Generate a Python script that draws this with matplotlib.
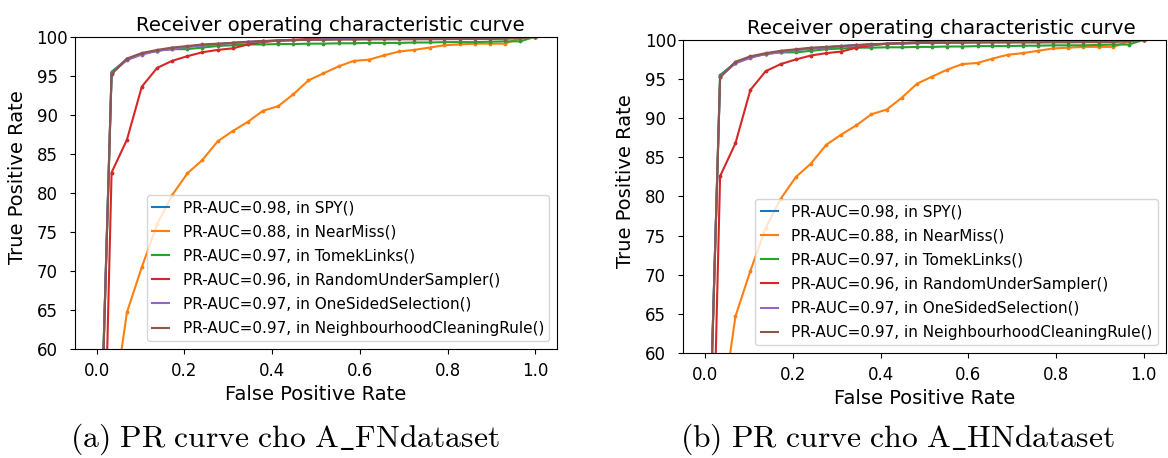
import matplotlib
matplotlib.use("Agg")
import matplotlib.pyplot as plt

# False positive rate grid (evenly spaced points of the curves)
fpr = [0.0, 0.034, 0.069, 0.103, 0.138, 0.172, 0.207, 0.241, 0.276, 0.310,
       0.345, 0.379, 0.414, 0.448, 0.483, 0.517, 0.552, 0.586, 0.621, 0.655,
       0.690, 0.724, 0.759, 0.793, 0.828, 0.862, 0.897, 0.931, 0.966, 1.0]

# True positive rate (%) for each sampler
tpr_spy = [30.0, 95.5, 97.1, 97.8, 98.2, 98.5, 98.7, 98.9, 99.05, 99.2,
           99.3, 99.4, 99.5, 99.55, 99.6, 99.65, 99.7, 99.72, 99.75, 99.78,
           99.8, 99.82, 99.85, 99.87, 99.9, 99.9, 99.92, 99.95, 99.97, 100.0]
tpr_nearmiss = [0.0, 51.0, 64.7, 70.5, 76.0, 79.7, 82.5, 84.2, 86.6, 87.9,
                89.1, 90.5, 91.1, 92.6, 94.4, 95.3, 96.2, 96.9, 97.05, 97.6,
                98.1, 98.3, 98.6, 98.9, 99.0, 99.1, 99.1, 99.1, 99.8, 100.0]
tpr_tomek = [30.0, 95.4, 97.1, 97.8, 98.2, 98.4, 98.4, 98.6, 98.8, 98.9,
             99.0, 99.0, 99.05, 99.05, 99.1, 99.1, 99.15, 99.15, 99.2, 99.2,
             99.2, 99.25, 99.25, 99.3, 99.3, 99.3, 99.35, 99.4, 99.4, 100.0]
tpr_rus = [5.0, 82.6, 86.8, 93.6, 96.0, 96.9, 97.5, 98.0, 98.3, 98.5,
           99.0, 99.3, 99.5, 99.6, 99.7, 99.8, 99.85, 99.9, 99.9, 99.9,
           99.92, 99.93, 99.94, 99.95, 99.96, 99.97, 99.98, 99.98, 99.99, 100.0]
tpr_oss = [30.0, 95.3, 97.0, 97.7, 98.2, 98.4, 98.7, 98.9, 99.0, 99.2,
           99.3, 99.4, 99.5, 99.55, 99.6, 99.65, 99.7, 99.7, 99.75, 99.8,
           99.8, 99.82, 99.85, 99.87, 99.9, 99.9, 99.92, 99.95, 99.97, 100.0]
tpr_ncr = [29.0, 95.2, 97.2, 97.9, 98.3, 98.6, 98.8, 99.0, 99.1, 99.2,
           99.35, 99.45, 99.5, 99.55, 99.6, 99.6, 99.62, 99.62, 99.64, 99.65,
           99.65, 99.66, 99.66, 99.68, 99.68, 99.7, 99.7, 99.72, 99.8, 100.0]

labels = ["PR-AUC=0.98, in SPY()",
          "PR-AUC=0.88, in NearMiss()",
          "PR-AUC=0.97, in TomekLinks()",
          "PR-AUC=0.96, in RandomUnderSampler()",
          "PR-AUC=0.97, in OneSidedSelection()",
          "PR-AUC=0.97, in NeighbourhoodCleaningRule()"]
series = [tpr_spy, tpr_nearmiss, tpr_tomek, tpr_rus, tpr_oss, tpr_ncr]
captions = [r"$\mathrm{(a)\ PR\ curve\ cho\ A\_FNdataset}$",
            r"$\mathrm{(b)\ PR\ curve\ cho\ A\_HNdataset}$"]
yticks = [60, 65, 70, 75, 80, 85, 90, 95, 100]
xticks = [0.0, 0.2, 0.4, 0.6, 0.8, 1.0]

plt.rcParams['mathtext.fontset'] = 'cm'

fig = plt.figure(figsize=(11.68, 4.58), dpi=100)
# axes rectangles in figure fraction
rects = [[0.064, 0.238, 0.413, 0.682], [0.585, 0.229, 0.413, 0.684]]
title_x = [0.53, 0.535]
caption_x = [0.244, 0.768]

for i, rect in enumerate(rects):
    ax = fig.add_axes(rect)
    for y, lab in zip(series, labels):
        ax.plot(fpr, y, marker='.', markersize=3.5, linewidth=1.5, label=lab)
    ax.set_xlim(-0.05, 1.05)
    ax.set_ylim(60, 100)
    ax.set_yticks(yticks)
    ax.set_xticks(xticks)
    ax.tick_params(axis='both', labelsize=12)
    ax.tick_params(axis='x', pad=6)
    ax.tick_params(axis='y', pad=24)
    for t in ax.get_yticklabels():
        t.set_horizontalalignment('left')
    ax.set_title("Receiver operating characteristic curve", fontsize=14.2,
                 x=title_x[i], pad=4)
    ax.set_xlabel("False Positive Rate", fontsize=14)
    ax.set_ylabel("True Positive Rate", fontsize=14)
    ax.xaxis.set_label_coords(0.5, -0.115)
    ax.yaxis.set_label_coords(-0.1, 0.55)
    leg = ax.legend(loc='lower right', fontsize=11, labelspacing=0.6,
                    handlelength=1.1, handletextpad=0.9, borderpad=0.35)
    for h in leg.legend_handles:
        h.set_marker('')
    fig.text(caption_x[i], 0.04, captions[i], fontsize=22.8, ha='center',
             va='center')

plt.savefig('out.png', dpi=100)
